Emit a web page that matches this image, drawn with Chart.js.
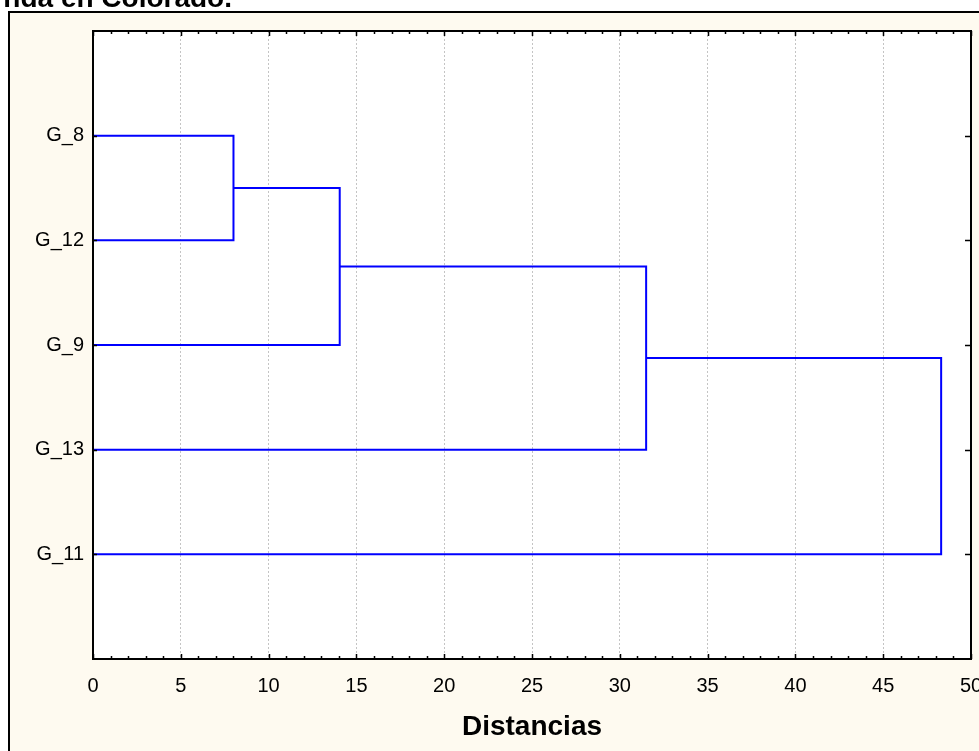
<!DOCTYPE html>
<html>
<head>
<meta charset="utf-8">
<script src="https://cdn.jsdelivr.net/npm/chart.js@4"></script>
<style>
  html, body { margin: 0; padding: 0; background: #ffffff; overflow: hidden; }
  #wrap { position: absolute; left: 0; top: 0; width: 979px; height: 751px; }
</style>
</head>
<body>
<div id="wrap"><canvas id="c" width="979" height="751"></canvas></div>
<script>
// Leaves of the dendrogram, top to bottom
const leaves = ['G_8', 'G_12', 'G_9', 'G_13', 'G_11'];
// Linkage distance at which each successive leaf joins the growing cluster
const mergeDistances = [8.0, 14.05, 31.5, 48.3];
// Distance axis
const xMin = 0, xMax = 50, xMajorStep = 5, xMinorStep = 1;

const titleText = 'nda en Colorado.';
const axisTitle = 'Distancias';
const cream = 'rgb(254,250,240)';
const linkColor = '#0000ff';

// Build one U-shaped link per merge: cluster (left arm) joined with the next leaf (right arm)
const linkSets = [];
let clusterY = 1, clusterH = 0;
mergeDistances.forEach((h, i) => {
  const leafY = i + 2;
  linkSets.push({
    data: [
      { x: clusterH, y: clusterY },
      { x: h, y: clusterY },
      { x: h, y: leafY },
      { x: 0, y: leafY }
    ],
    showLine: true,
    borderColor: linkColor,
    borderWidth: 2,
    pointRadius: 0,
    tension: 0,
    fill: false
  });
  clusterY = (clusterY + leafY) / 2;
  clusterH = h;
});

// Page background, outer frame and the heading
const framePlugin = {
  id: 'frame',
  beforeDraw(chart) {
    const ctx = chart.ctx;
    ctx.save();
    ctx.fillStyle = '#ffffff';
    ctx.fillRect(0, 0, chart.width, chart.height);
    ctx.fillStyle = cream;
    ctx.fillRect(9, 12, chart.width, chart.height);
    ctx.strokeStyle = '#000';
    ctx.lineWidth = 2;
    ctx.beginPath();
    ctx.moveTo(9, chart.height + 5);
    ctx.lineTo(9, 12);
    ctx.lineTo(chart.width + 5, 12);
    ctx.stroke();
    const a = chart.chartArea;
    ctx.fillStyle = '#ffffff';
    ctx.fillRect(a.left, a.top, a.right - a.left, a.bottom - a.top);
    ctx.fillStyle = '#000';
    ctx.font = 'bold 28px "Liberation Sans", Arial, sans-serif';
    ctx.textAlign = 'right';
    ctx.textBaseline = 'alphabetic';
    ctx.fillText(titleText, 232, 7);
    ctx.restore();
  },
  afterDraw(chart) {
    const ctx = chart.ctx;
    const a = chart.chartArea;
    const xs = chart.scales.x, ys = chart.scales.y;
    ctx.save();
    ctx.strokeStyle = '#000';
    // inward ticks on the distance axis, top and bottom
    ctx.lineWidth = 1.5;
    ctx.beginPath();
    for (let v = xMin; v <= xMax; v += xMinorStep) {
      const px = Math.round(xs.getPixelForValue(v)) + 0.5;
      const len = (v % xMajorStep === 0) ? 5 : 3;
      ctx.moveTo(px, a.bottom);
      ctx.lineTo(px, a.bottom - len);
      ctx.moveTo(px, a.top);
      ctx.lineTo(px, a.top + len);
    }
    // inward ticks at each leaf on the left and right edges
    leaves.forEach((_, i) => {
      const py = Math.round(ys.getPixelForValue(i + 1)) + 0.5;
      ctx.moveTo(a.left, py);
      ctx.lineTo(a.left + 4, py);
      ctx.moveTo(a.right, py);
      ctx.lineTo(a.right - 6, py);
    });
    ctx.stroke();
    // plot frame
    ctx.lineWidth = 2;
    ctx.strokeRect(a.left, a.top, a.right - a.left, a.bottom - a.top);
    ctx.restore();
  }
};

new Chart(document.getElementById('c'), {
  type: 'scatter',
  data: { datasets: linkSets },
  options: {
    responsive: false,
    animation: false,
    devicePixelRatio: 1,
    layout: { padding: { top: 31, right: 8, left: 0, bottom: 0 } },
    plugins: {
      legend: { display: false },
      tooltip: { enabled: false },
      title: { display: false }
    },
    scales: {
      x: {
        type: 'linear',
        min: xMin,
        max: xMax,
        afterFit(scale) {
          scale.height = 92;
          scale.paddingLeft = 0;
          scale.paddingRight = 0;
        },
        ticks: {
          stepSize: xMajorStep,
          color: '#000',
          padding: 15,
          maxRotation: 0,
          font: { family: '"Liberation Sans", Arial, sans-serif', size: 20 }
        },
        grid: {
          color: '#c4c4c4',
          lineWidth: 1,
          drawTicks: false
        },
        border: { display: false, dash: [2, 2] },
        title: {
          display: true,
          text: axisTitle,
          color: '#000',
          padding: { top: 0, bottom: 7 },
          font: { family: '"Liberation Sans", Arial, sans-serif', size: 28, weight: 'bold' }
        }
      },
      y: {
        type: 'linear',
        min: 0,
        max: leaves.length + 1,
        reverse: true,
        afterFit(scale) {
          scale.width = 93;
          scale.paddingTop = 0;
          scale.paddingBottom = 0;
        },
        ticks: {
          stepSize: 1,
          color: '#000',
          padding: 9,
          font: { family: '"Liberation Sans", Arial, sans-serif', size: 20 },
          callback: (v) => (v >= 1 && v <= leaves.length) ? leaves[v - 1] : ''
        },
        grid: { display: false, drawTicks: false },
        border: { display: false }
      }
    }
  },
  plugins: [framePlugin]
});
</script>
</body>
</html>
